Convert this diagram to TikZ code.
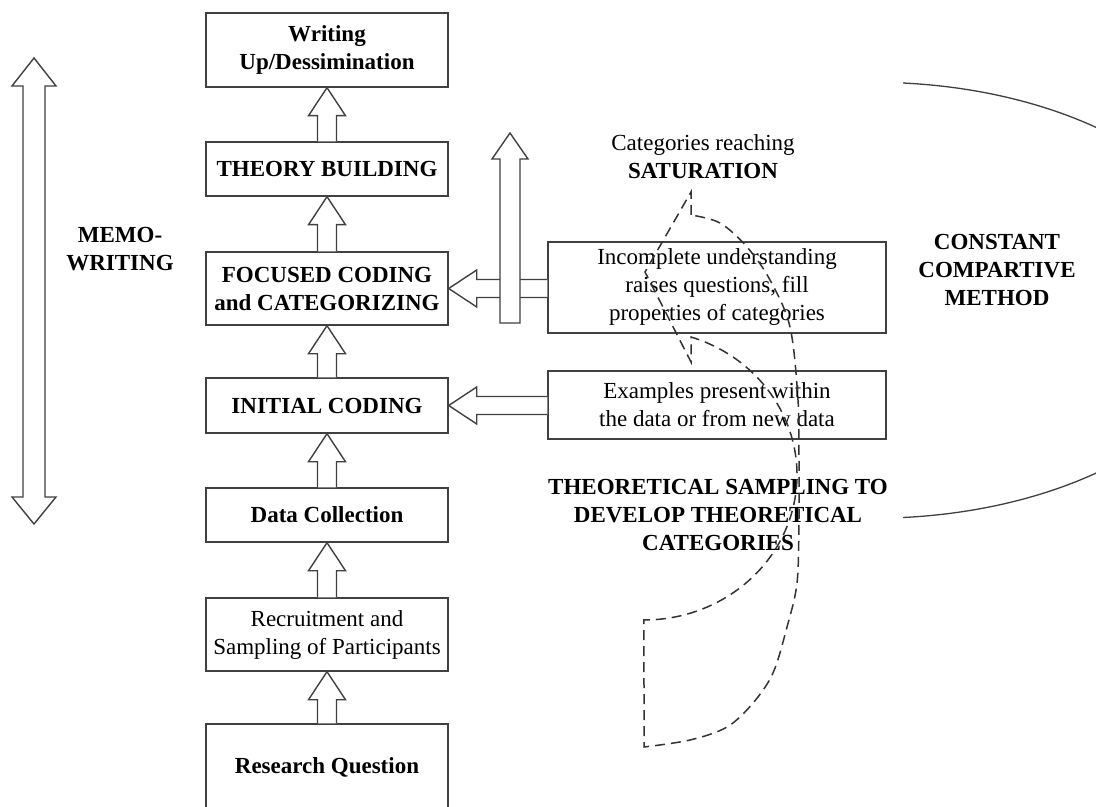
\documentclass[tikz,border=0pt]{standalone}
\usepackage{fontspec}
\setmainfont{Liberation Serif}
\usetikzlibrary{calc}

\tikzset{
  txt/.style={font=\fontsize{11.5}{14}\selectfont},
  stage/.style={txt, draw=black!75, line width=0.7pt, fill=white, align=center, inner sep=2pt},
  leftstage/.style={stage, minimum width=121pt},
  rightstage/.style={stage, minimum width=169pt},
  blockarrow/.style={draw=black!75, line width=0.7pt, fill=white, line join=miter},
  plaintext/.style={txt, align=center, inner sep=0pt},
  boldtext/.style={plaintext, font=\fontsize{11.5}{14}\selectfont\bfseries},
  dashshape/.style={draw=black!80, line width=0.75pt, dash pattern=on 5pt off 3pt},
  arcline/.style={draw=black!75, line width=0.65pt},
}

% hollow arrow pointing up: shaft leaves the top of #1, head touches the bottom of #2
\newcommand\upblock[2]{%
  \draw[blockarrow] ($(#1.north)+(-9.5,0)$) -- ($(#2.south)+(-9.5,28)$)
    -- ($(#2.south)+(-18.5,28)$) -- (#2.south) -- ($(#2.south)+(18.5,28)$)
    -- ($(#2.south)+(9.5,28)$) -- ($(#1.north)+(9.5,0)$);}

% hollow arrow pointing left: shaft leaves the left side of #1, head touches the right side of #2
\newcommand\leftblock[2]{%
  \draw[blockarrow] ($(#2.east -| #1.west)+(0,-9)$) -- ($(#2.east)+(28,-9)$)
    -- ($(#2.east)+(28,-18.5)$) -- (#2.east) -- ($(#2.east)+(28,18.5)$)
    -- ($(#2.east)+(28,9)$) -- ($(#2.east -| #1.west)+(0,9)$);}

\begin{document}
\begin{tikzpicture}[x=0.5pt,y=-0.5pt]
\useasboundingbox (0,0) rectangle (1096,807);
\fill[white] (0,0) rectangle (1096,807);
\clip (0,0) rectangle (1096,807);

% main column of stages
\node[leftstage, minimum height=37pt, font=\fontsize{11.5}{14}\selectfont\bfseries] (write) at (327,50) {Writing\\Up/Dessimination};
\node[leftstage, minimum height=27pt, font=\fontsize{11.5}{14}\selectfont\bfseries] (theory) at (327,169) {THEORY BUILDING};
\node[leftstage, minimum height=36.5pt, font=\fontsize{11.5}{14}\selectfont\bfseries] (focused) at (327,288.5) {FOCUSED CODING\\and CATEGORIZING};
\node[leftstage, minimum height=27.5pt, font=\fontsize{11.5}{14}\selectfont\bfseries] (initial) at (327,405.5) {INITIAL CODING};
\node[leftstage, minimum height=27pt, font=\fontsize{11.5}{14}\selectfont\bfseries] (data) at (327,515) {Data Collection};
\node[leftstage, minimum height=36.5pt] (recruit) at (327,634.5) {Recruitment and\\Sampling of Participants};
\node[leftstage, minimum height=43pt, font=\fontsize{11.5}{14}\selectfont\bfseries] (question) at (327,767) {Research Question};

% right-hand stages
\node[rightstage, minimum height=45.5pt] (incomplete) at (717,287.5) {Incomplete understanding\\raises questions, fill\\properties of categories};
\node[rightstage, minimum height=34pt] (examples) at (717,405) {Examples present within\\the data or from new data};

% arrows up the column
\upblock{question}{recruit}
\upblock{recruit}{data}
\upblock{data}{initial}
\upblock{initial}{focused}
\upblock{focused}{theory}
\upblock{theory}{write}

% arrows from the right-hand stages
\leftblock{incomplete}{focused}
\leftblock{examples}{initial}

% tall arrow towards saturation
\coordinate (satbase) at (510,323);
\coordinate (sattip) at (510,133);
\draw[blockarrow] ($(satbase)+(-10,0)$) -- ($(sattip)+(-10,26)$) -- ($(sattip)+(-18,26)$)
  -- (sattip) -- ($(sattip)+(18,26)$) -- ($(sattip)+(10,26)$) -- ($(satbase)+(10,0)$) -- cycle;

% memo-writing double arrow
\coordinate (memotop) at (34,58);
\coordinate (memobot) at (34,524);
\draw[blockarrow] (memotop) -- ($(memotop)+(22,28)$) -- ($(memotop)+(11,28)$)
  -- ($(memobot)+(11,-27)$) -- ($(memobot)+(22,-27)$) -- (memobot)
  -- ($(memobot)+(-22,-27)$) -- ($(memobot)+(-11,-27)$) -- ($(memotop)+(-11,28)$)
  -- ($(memotop)+(-22,28)$) -- cycle;

% labels
\node[boldtext] (memo) at (120,249.5) {MEMO-\\WRITING};
\node[plaintext] (saturation) at (703,157) {Categories reaching\\\textbf{SATURATION}};
\node[boldtext] (sampling) at (718,515) {THEORETICAL SAMPLING TO\\DEVELOP THEORETICAL\\CATEGORIES};
\node[boldtext] (constant) at (997,270) {CONSTANT\\COMPARTIVE\\METHOD};

% bracket of the constant comparative method
\draw[arcline] (903,83) arc[start angle=-85.3, end angle=85.3, x radius=366, y radius=218];

% dashed curved arrow of theoretical sampling
\draw[dashshape] (691,215) -- (691,192) -- (645,272) -- (691,362) -- (691,337)
  arc[start angle=-72.1, end angle=90, x radius=153, y radius=145]
  -- (644,747)
  -- plot[smooth, tension=0.55] coordinates {(644,747) (690,740) (727,727) (753,703)
     (773,673) (787,627) (797,583) (799,520) (799,460) (798,400) (790,327) (770,280)
     (747,247) (720,223) (691,215)}
  -- cycle;
\end{tikzpicture}
\end{document}
